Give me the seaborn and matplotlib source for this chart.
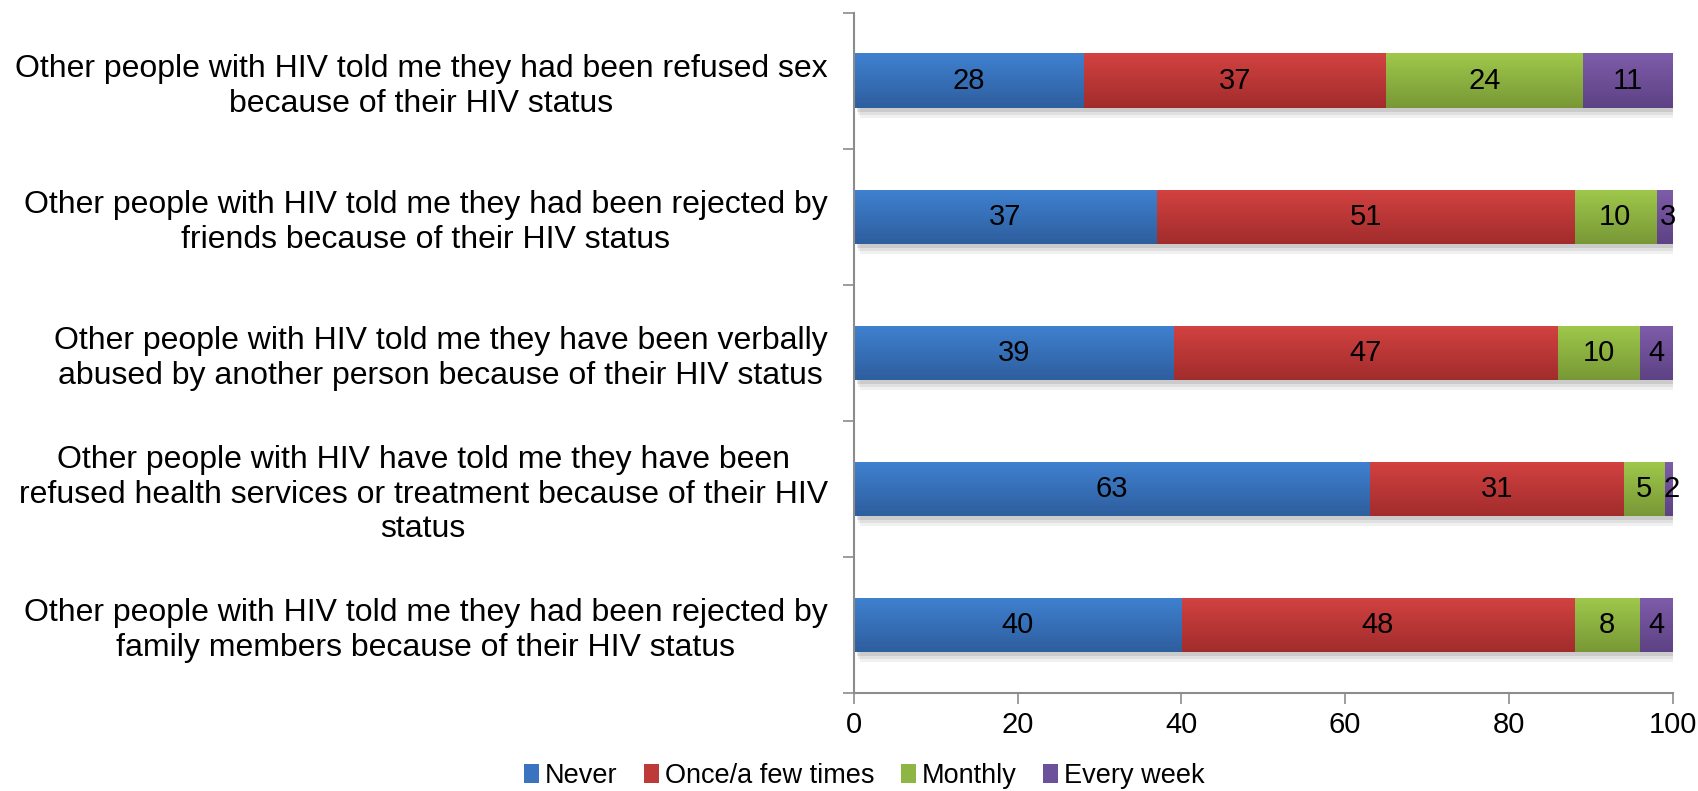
import numpy as np
import seaborn as sns
import pandas as pd
import matplotlib.pyplot as plt
import matplotlib.patheffects as pe
from matplotlib.patches import Patch
from matplotlib.colors import LinearSegmentedColormap

statements = [
    "Other people with HIV told me they had been refused sex\nbecause of their HIV status",
    "Other people with HIV told me they had been rejected by\nfriends because of their HIV status",
    "Other people with HIV told me they have been verbally\nabused by another person because of their HIV status",
    "Other people with HIV have told me they have been\nrefused health services or treatment because of their HIV\nstatus",
    "Other people with HIV told me they had been rejected by\nfamily members because of their HIV status",
]
series = ["Never", "Once/a few times", "Monthly", "Every week"]
never = [28, 37, 39, 63, 40]
once = [37, 51, 47, 31, 48]
monthly = [24, 10, 10, 5, 8]
weekly = [11, 3, 4, 2, 4]

colors = ["#3a74c0", "#bd3a38", "#8fb644", "#6c519a"]
# top -> bottom shading of each bar (office style gradient)
grad = [("#3f81d0", "#2e5e9e"), ("#d24241", "#a22c2c"),
        ("#9fc84b", "#789836"), ("#7e5caa", "#5d4284")]
axis_grey = "#8c8c8c"

df = pd.DataFrame({"statement": statements, "Never": never,
                   "Once/a few times": once, "Monthly": monthly,
                   "Every week": weekly})
cum = df[series].cumsum(axis=1).clip(upper=100)
cum["statement"] = statements

sns.set_theme(style="white")
plt.rcParams["font.family"] = ["Liberation Sans", "DejaVu Sans"]

fig = plt.figure(figsize=(16.98, 7.91), dpi=100)
ax = fig.add_axes([0.503, 0.124, 0.482, 0.86])

# stacked bars: draw cumulative totals from the longest down
z = 2
for i in range(len(series) - 1, -1, -1):
    col = series[i]
    n_before = len(ax.patches)
    sns.barplot(data=cum, y="statement", x=col, orient="h", color=colors[i],
                saturation=1, width=0.4, ax=ax, linewidth=0)
    new = ax.patches[n_before:]
    cmap = LinearSegmentedColormap.from_list(col, grad[i])
    for p in new:
        p.set_zorder(z)
        if i == len(series) - 1:
            p.set_path_effects([
                pe.SimplePatchShadow(offset=(4, -7), shadow_rgbFace="k", alpha=0.06),
                pe.SimplePatchShadow(offset=(3, -5), shadow_rgbFace="k", alpha=0.08),
                pe.SimplePatchShadow(offset=(2, -3), shadow_rgbFace="k", alpha=0.10),
                pe.Normal()])
        bb = p.get_bbox()
        im = ax.imshow(np.linspace(0, 1, 64).reshape(-1, 1), cmap=cmap,
                       aspect="auto", origin="upper",
                       extent=(bb.x0, bb.x1, bb.y1, bb.y0), zorder=z + 0.5)
        im.set_clip_path(p)
    z += 1

# value labels in the middle of each segment
for r in range(len(statements)):
    left = 0
    for col in series:
        v = df.loc[r, col]
        mid = left + v / 2
        if left + v > 100:
            mid = (left + 100) / 2 + 0.4
        ax.text(mid, r, str(v), ha="center", va="center", fontsize=21,
                color="black", zorder=20)
        left += v

ax.set_xlim(0, 100)
ax.set_ylim(4.5, -0.5)
ax.set_xticks([0, 20, 40, 60, 80, 100])
ax.set_yticks([-0.5, 0.5, 1.5, 2.5, 3.5, 4.5])
ax.set_yticklabels([])
ax.set_yticks(range(5), minor=True)
ax.set_yticklabels(statements, minor=True, fontsize=23, ha="right",
                   multialignment="center", color="black")
ax.tick_params(axis="y", which="minor", length=0, pad=19)
ax.tick_params(axis="y", which="major", length=8, width=1.2, color=axis_grey,
               left=True, direction="out")
ax.tick_params(axis="x", length=8, width=1.2, color=axis_grey, bottom=True,
               direction="out", labelsize=21, labelcolor="black", pad=5)
ax.set_xlabel("")
ax.set_ylabel("")
sns.despine(ax=ax, top=True, right=True)
for s in ["left", "bottom"]:
    ax.spines[s].set_color(axis_grey)
    ax.spines[s].set_linewidth(1.5)
    ax.spines[s].set_zorder(30)

handles = [Patch(facecolor=c, edgecolor="none") for c in colors]
fig.legend(handles, series, loc="center", bbox_to_anchor=(0.509, 0.019),
           ncol=4, frameon=False, fontsize=19.5, handlelength=0.55,
           handleheight=0.75, handletextpad=0.2, columnspacing=1.0,
           labelcolor="black", borderaxespad=0, borderpad=0)

fig.savefig("out.png", dpi=100)
